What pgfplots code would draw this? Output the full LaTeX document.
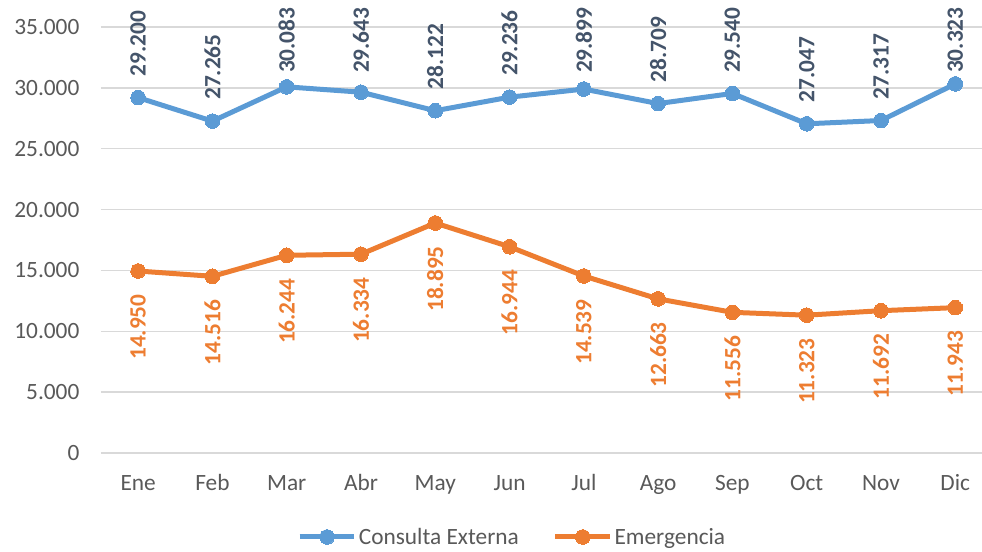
\documentclass[border=0pt]{standalone}
\usepackage{pgfplots}
\pgfplotsset{compat=1.18}
\usepackage{fontspec}
\setmainfont{Carlito}
\definecolor{cblue}{HTML}{5B9BD5}
\definecolor{corange}{HTML}{ED7D31}
\definecolor{clabblue}{HTML}{44546A}
\definecolor{ctext}{HTML}{595959}
\definecolor{cgrid}{HTML}{D9D9D9}
\begin{document}
\begin{tikzpicture}
\begin{axis}[
  scale only axis,
  width=660.75pt, height=319.5pt,
  xmin=-0.5, xmax=11.36,
  ymin=0, ymax=35000,
  ytick={0,5000,10000,15000,20000,25000,30000,35000},
  xtick={0,...,11},
  xticklabels={Ene,Feb,Mar,Abr,May,Jun,Jul,Ago,Sep,Oct,Nov,Dic},
  scaled y ticks=false,
  /pgf/number format/.cd, fixed, precision=0, 1000 sep={.}, assume math mode=true,
  /pgfplots/.cd,
  axis line style={draw=none},
  major tick length=0pt,
  ymajorgrids,
  grid style={cgrid, line width=1pt},
  tick label style={font=\fontsize{17.5}{20}\selectfont, text=ctext},
  yticklabel style={inner sep=0pt, xshift=-16pt},
  xticklabel style={inner sep=0pt, anchor=north, text height=11.3pt, text depth=3pt, yshift=-17pt},
  clip=false,
  legend style={at={(0.5,0)}, anchor=center, yshift=-63pt, xshift=-22pt, draw=none,
    font=\fontsize{17.5}{20}\selectfont, text=ctext, legend columns=2,
    nodes={inner xsep=1.5pt},
    /tikz/every even column/.append style={column sep=24pt}},
  legend image code/.code={\draw[#1, mark=none] (0pt,0pt) -- (41pt,0pt); \draw[#1, only marks] plot coordinates {(20.5pt,0pt)};},
]
\coordinate (tl) at (axis description cs:-0.11464,1.06338);
\coordinate (br) at (axis description cs:1,-0.23239);
\addplot[cblue, line width=3.75pt, mark=*, mark size=5.5pt, mark options={solid, fill=cblue, draw=cblue, line width=0pt},
  visualization depends on={\thisrow{g} \as \gap},
  nodes near coords={\pgfmathprintnumber{\pgfplotspointmeta}},
  every node near coord/.append style={rotate=90, anchor=west, inner xsep=\gap pt, inner ysep=0pt, text=clabblue, font=\fontsize{17.5}{20}\selectfont\bfseries}]
table[x=x, y=y] {
x y g
0 29200 16
1 27265 16
2 30083 10.4
3 29643 14.4
4 28122 16
5 29236 16
6 29899 12.1
7 28709 16
8 29540 15.4
9 27047 16
10 27317 16
11 30323 8.3
};
\addlegendentry{Consulta Externa}
\addplot[corange, line width=3.75pt, mark=*, mark size=5.5pt, mark options={solid, fill=corange, draw=corange, line width=0pt},
  nodes near coords={\pgfmathprintnumber{\pgfplotspointmeta}},
  every node near coord/.append style={rotate=90, anchor=east, inner xsep=17.5pt, inner ysep=0pt, text=corange, font=\fontsize{17.5}{20}\selectfont\bfseries}]
coordinates {(0,14950) (1,14516) (2,16244) (3,16334) (4,18895) (5,16944) (6,14539) (7,12663) (8,11556) (9,11323) (10,11692) (11,11943)};
\addlegendentry{Emergencia}
\end{axis}
\pgfresetboundingbox
\path (tl) rectangle (br);
\end{tikzpicture}
\end{document}
